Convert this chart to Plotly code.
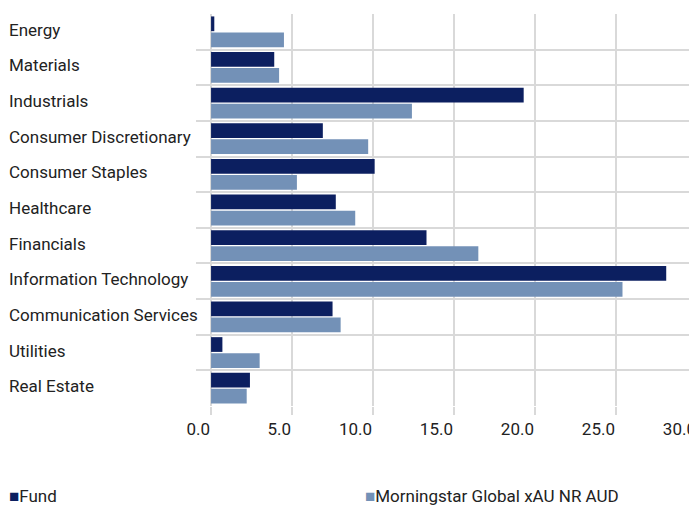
import plotly.graph_objects as go

categories = ["Energy", "Materials", "Industrials", "Consumer Discretionary",
              "Consumer Staples", "Healthcare", "Financials", "Information Technology",
              "Communication Services", "Utilities", "Real Estate"]
fund_name = "Fund"
bench_name = "Morningstar Global xAU NR AUD"
fund_values = [0.2, 3.9, 19.3, 6.9, 10.1, 7.7, 13.3, 28.1, 7.5, 0.7, 2.4]
bench_values = [4.5, 4.2, 12.4, 9.7, 5.3, 8.9, 16.5, 25.4, 8.0, 3.0, 2.2]
x_ticks = [0, 5, 10, 15, 20, 25, 30]
x_ticktext = ["0.0", "5.0", "10.0", "15.0", "20.0", "25.0", "30.0"]

FONT = "Roboto, Liberation Sans Narrow, sans-serif"
FUND_COLOR = "#0c1f60"
BENCH_COLOR = "#7391b7"
GRID = "#d9d9d9"
TEXT = "#222222"
FS = 17

ypos = list(range(len(categories)))

fig = go.Figure()
fig.add_trace(go.Bar(y=ypos, x=fund_values, orientation="h", name=fund_name,
                     marker=dict(color=FUND_COLOR, line=dict(width=0)),
                     hovertext=categories))
fig.add_trace(go.Bar(y=ypos, x=bench_values, orientation="h", name=bench_name,
                     marker=dict(color=BENCH_COLOR, line=dict(width=0)),
                     hovertext=categories))

# category labels, left aligned
for i, c in enumerate(categories):
    fig.add_annotation(x=0, xref="paper", y=i, yref="y", text=c, showarrow=False,
                       xanchor="left", yanchor="middle", xshift=-189, yshift=2,
                       font=dict(family=FONT, size=FS, color=TEXT))

# legend as text
for name, color, xs in [(fund_name, FUND_COLOR, -189), (bench_name, BENCH_COLOR, 167)]:
    fig.add_annotation(x=0, xref="paper", y=0, yref="paper",
                       text=f"<span style='color:{color}'>■</span>{name}",
                       showarrow=False, xanchor="left", yanchor="middle",
                       xshift=xs, yshift=-90,
                       font=dict(family=FONT, size=FS, color=TEXT))

fig.update_layout(
    width=689, height=498,
    margin=dict(l=188, r=0, t=6, b=100),
    paper_bgcolor="white", plot_bgcolor="white",
    barmode="group", bargap=0.1, bargroupgap=0.08,
    showlegend=False,
    font=dict(family=FONT, size=FS, color=TEXT),
    xaxis=dict(range=[-0.93, 30], tickvals=x_ticks, ticktext=x_ticktext,
               showgrid=True, gridcolor=GRID, gridwidth=2, zeroline=False,
               showline=False, ticks="outside", ticklen=8, tickcolor=GRID,
               tickwidth=2, ticklabelposition="outside left", ticklabelstandoff=8,
               tickfont=dict(family=FONT, size=FS, color=TEXT),
               fixedrange=True),
    yaxis=dict(range=[len(categories) - 0.5, -0.5],
               tickvals=[i - 0.5 for i in range(len(categories) + 1)],
               showticklabels=False, showgrid=True, gridcolor=GRID, gridwidth=2,
               zeroline=False, showline=False, ticks="", fixedrange=True),
)

fig.write_html("out.html")
